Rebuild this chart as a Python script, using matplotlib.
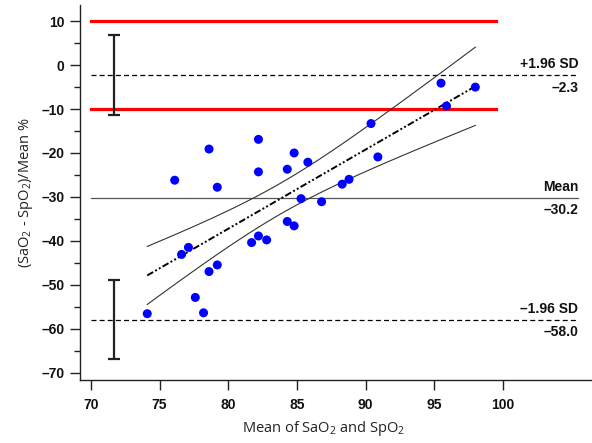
import numpy as np
import matplotlib
matplotlib.use("Agg")
import matplotlib.pyplot as plt
from matplotlib.ticker import FuncFormatter

plt.rcParams['mathtext.fontset'] = 'custom'
plt.rcParams['mathtext.rm'] = 'Open Sans'

# points (mean of SaO2/SpO2, % difference)
mean_x = [74.1, 76.1, 76.6, 77.1, 77.6, 78.2, 78.6, 78.6, 79.2, 79.2,
          81.7, 82.2, 82.2, 82.2, 82.8, 84.3, 84.3, 84.8, 84.8, 85.3,
          85.8, 86.8, 88.3, 88.8, 95.5, 98.0, 95.9, 90.4, 90.9]
diff_pct = [-56.6, -26.2, -43.1, -41.5, -52.9, -56.4, -19.1, -47.0, -27.8, -45.5,
            -40.4, -16.9, -24.3, -38.9, -39.8, -23.7, -35.6, -20.0, -36.6, -30.4,
            -22.1, -31.1, -27.1, -26.0, -4.1, -5.0, -9.3, -13.3, -20.9]

bias = -30.2
upper_loa = -2.3
lower_loa = -58.0
loa_ci_upper = (-11.4, 6.8)
loa_ci_lower = (-67.0, -48.9)
red_limits = [10, -10]

x = np.array(mean_x)
y = np.array(diff_pct)

fig = plt.figure(figsize=(5.92, 4.43), dpi=100)
ax = fig.add_axes([80/592, 1-380/443, 512/592, 375/443])

# acceptance limits
for r in red_limits:
    ax.plot([70, 99.5], [r, r], color='#ff0000', lw=2.3, zorder=2)

# bias and limits of agreement
ax.plot([70, 105.5], [bias, bias], color='#555555', lw=0.9, zorder=1)
for v in (upper_loa, lower_loa):
    ax.plot([70, 105.5], [v, v], color='black', lw=0.9, dashes=(4, 2.5), zorder=1)

# CI of limits of agreement
for lo, hi in (loa_ci_upper, loa_ci_lower):
    ax.errorbar([71.7], [(lo + hi) / 2], yerr=[[(hi - lo) / 2]], color='#222222',
                lw=1.6, capsize=4.5, capthick=1.6, zorder=3)

# regression with 95% confidence band
b, a = np.polyfit(x, y, 1)
xs = np.linspace(x.min(), x.max(), 100)
fit = a + b * xs
n = len(x)
res = y - (a + b * x)
s = np.sqrt(np.sum(res**2) / (n - 2))
sxx = np.sum((x - x.mean())**2)
half = 2.05 * s * np.sqrt(1/n + (xs - x.mean())**2 / sxx)
ax.plot(xs, fit, color='black', lw=1.4, dashes=(3.5, 1.2, 1, 1.2, 1, 1.2), zorder=3)
ax.plot(xs, fit + half, color='#333333', lw=0.8, zorder=3)
ax.plot(xs, fit - half, color='#333333', lw=0.8, zorder=3)

ax.scatter(x, y, s=42, color='#0000ff', edgecolors='none', zorder=4)

lab = dict(ha='right', fontsize=10, fontweight='bold', family='Liberation Sans',
           color='#111111')
ax.annotate('+1.96 SD', (105.5, upper_loa), xytext=(0, 3), textcoords='offset points', va='bottom', **lab)
ax.annotate('\u20132.3', (105.5, upper_loa), xytext=(0, -4), textcoords='offset points', va='top', **lab)
ax.annotate('Mean', (105.5, bias), xytext=(0, 3), textcoords='offset points', va='bottom', **lab)
ax.annotate('\u201330.2', (105.5, bias), xytext=(0, -4), textcoords='offset points', va='top', **lab)
ax.annotate('\u20131.96 SD', (105.5, lower_loa), xytext=(0, 3), textcoords='offset points', va='bottom', **lab)
ax.annotate('\u201358.0', (105.5, lower_loa), xytext=(0, -4), textcoords='offset points', va='top', **lab)

ax.set_xlim(69.2, 106.5)
ax.set_ylim(-71.7, 13.7)
ax.set_xticks(np.arange(70, 101, 5))
ax.set_yticks(np.arange(-70, 11, 10))
ax.set_yticks(np.arange(-65, 11, 10), minor=True)
ax.yaxis.set_major_formatter(FuncFormatter(lambda v, p: f'{v:.0f}'.replace('-', '\u2013')))
ax.spines['top'].set_visible(False)
ax.spines['right'].set_visible(False)
for sp in ('left', 'bottom'):
    ax.spines[sp].set_linewidth(1.0)
    ax.spines[sp].set_color('#222222')
ax.tick_params(axis='both', which='major', length=7, width=1.0, color='#222222')
ax.tick_params(axis='y', which='minor', length=4, width=1.0, color='#222222')
ax.tick_params(axis='y', pad=4)
ax.tick_params(axis='x', pad=6)
for t in ax.get_xticklabels() + ax.get_yticklabels():
    t.set_fontfamily('Liberation Sans')
    t.set_fontweight('bold')
    t.set_fontsize(10)
    t.set_color('#111111')

ax.set_xlabel(r'Mean of SaO$_\mathregular{2}$ and SpO$_\mathregular{2}$', fontsize=10.5,
              family='Open Sans', color='#222222')
ax.xaxis.set_label_coords(0.475, -0.105)
ax.set_ylabel(r'(SaO$_\mathregular{2}$ - SpO$_\mathregular{2}$)/Mean %', fontsize=10.5,
              family='Open Sans', color='#222222')
ax.yaxis.set_label_coords(-0.088, 0.5)

fig.savefig('out.png', dpi=100)
